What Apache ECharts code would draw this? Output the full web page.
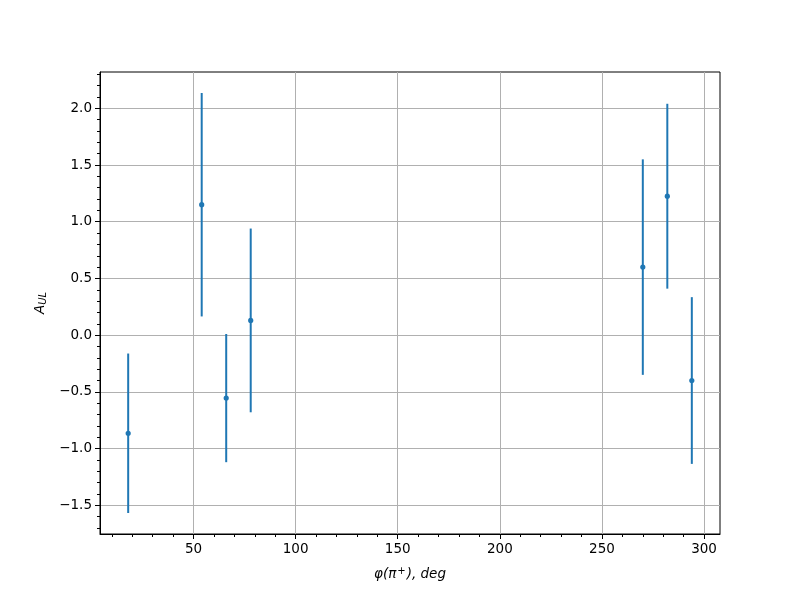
<!DOCTYPE html>
<html>
<head>
<meta charset="utf-8">
<script src="https://cdn.jsdelivr.net/npm/echarts@6/dist/echarts.min.js"></script>
<style>html,body{margin:0;padding:0;background:#fff;}#c{width:800px;height:600px;}</style>
</head>
<body>
<div id="c"></div>
<script>
// Data
const phi = [18, 54, 66, 78, 270, 282, 294];
const aul = [-0.865, 1.15, -0.555, 0.13, 0.60, 1.225, -0.40];
const err = [0.703, 0.985, 0.565, 0.81, 0.95, 0.815, 0.735];

const xMajor = [50, 100, 150, 200, 250, 300];
const xMinor = [10, 20, 30, 40, 60, 70, 80, 90, 110, 120, 130, 140, 160, 170, 180, 190, 210, 220, 230, 240, 260, 270, 280, 290];
const yMajor = [-1.5, -1.0, -0.5, 0.0, 0.5, 1.0, 1.5, 2.0];
const yMinor = [-1.7, -1.6, -1.4, -1.3, -1.2, -1.1, -0.9, -0.8, -0.7, -0.6, -0.4, -0.3, -0.2, -0.1, 0.1, 0.2, 0.3, 0.4, 0.6, 0.7, 0.8, 0.9, 1.1, 1.2, 1.3, 1.4, 1.6, 1.7, 1.8, 1.9, 2.1, 2.2, 2.3];

// matplotlib-like 5% margins
const xLo = Math.min(...phi), xHi = Math.max(...phi);
const xMin = xLo - 0.05 * (xHi - xLo), xMax = xHi + 0.05 * (xHi - xLo);
const lows = aul.map((v, i) => v - err[i]), highs = aul.map((v, i) => v + err[i]);
const yLo = Math.min(...lows), yHi = Math.max(...highs);
const yMin = yLo - 0.05 * (yHi - yLo), yMax = yHi + 0.05 * (yHi - yLo);

const FONT = 'DejaVu Sans';
const C = '#1f77b4';
const fmtY = v => { const s = Math.abs(v).toFixed(1); return (v < -1e-9 ? '\u2212' : '') + s; };

const data = phi.map((x, i) => [x, aul[i], err[i]]);

const chart = echarts.init(document.getElementById('c'), null, {renderer: 'canvas'});
chart.setOption({
  animation: false,
  backgroundColor: '#fff',
  grid: {left: 100, right: 80, top: 72, bottom: 66, show: true, borderColor: '#000', borderWidth: 1, backgroundColor: 'transparent', containLabel: false},
  xAxis: [{
    type: 'value', min: xMin, max: xMax, position: 'bottom',
    axisLine: {show: true, onZero: false, lineStyle: {color: '#000', width: 1}},
    axisTick: {show: true, inside: false, length: 5, lineStyle: {color: '#000', width: 1}, customValues: xMajor},
    axisLabel: {show: true, customValues: xMajor, color: '#000', fontFamily: FONT, fontSize: 13.5, margin: 8, formatter: v => String(v)},
    splitLine: {show: true, lineStyle: {color: '#b0b0b0', width: 1}},
    name: '{i|\u03c6(\u03c0}{sup|+}{i|), deg}',
    nameLocation: 'middle', nameGap: 32,
    nameTextStyle: {color: '#000', fontFamily: FONT, fontSize: 13.5, rich: {
      i: {fontStyle: 'italic', fontFamily: FONT, fontSize: 13.5, color: '#000'},
      sup: {fontFamily: FONT, fontSize: 10, color: '#000', verticalAlign: 'top', padding: [0, 1, 6, 1]}
    }}
  }, {
    type: 'value', min: xMin, max: xMax, position: 'bottom',
    axisLine: {show: false, onZero: false},
    axisTick: {show: true, inside: false, length: 3, lineStyle: {color: '#000', width: 1}, customValues: xMinor},
    axisLabel: {show: false},
    splitLine: {show: false}
  }],
  yAxis: [{
    type: 'value', min: yMin, max: yMax, position: 'left',
    axisLine: {show: true, onZero: false, lineStyle: {color: '#000', width: 1}},
    axisTick: {show: true, inside: false, length: 5, lineStyle: {color: '#000', width: 1}, customValues: yMajor},
    axisLabel: {show: true, customValues: yMajor, color: '#000', fontFamily: FONT, fontSize: 13.5, margin: 8, formatter: fmtY},
    splitLine: {show: true, lineStyle: {color: '#b0b0b0', width: 1}},
    name: '{i|A}{sub|UL}',
    nameLocation: 'middle', nameGap: 52, nameRotate: 90,
    nameTextStyle: {color: '#000', fontFamily: FONT, fontSize: 13.5, rich: {
      i: {fontStyle: 'italic', fontFamily: FONT, fontSize: 13.5, color: '#000'},
      sub: {fontStyle: 'italic', fontFamily: FONT, fontSize: 10, color: '#000', verticalAlign: 'bottom', padding: [6, 0, 0, 0]}
    }}
  }, {
    type: 'value', min: yMin, max: yMax, position: 'left',
    axisLine: {show: false, onZero: false},
    axisTick: {show: true, inside: false, length: 3, lineStyle: {color: '#000', width: 1}, customValues: yMinor},
    axisLabel: {show: false},
    splitLine: {show: false}
  }],
  series: [{
    type: 'custom',
    xAxisIndex: 0, yAxisIndex: 0,
    data: data,
    encode: {x: 0, y: 1},
    renderItem: function (params, api) {
      const x = api.value(0), y = api.value(1), e = api.value(2);
      const top = api.coord([x, y + e]);
      const bot = api.coord([x, y - e]);
      const c = api.coord([x, y]);
      return {type: 'group', children: [
        {type: 'line', shape: {x1: top[0], y1: top[1], x2: bot[0], y2: bot[1]}, style: {stroke: C, lineWidth: 2}},
        {type: 'circle', shape: {cx: c[0], cy: c[1], r: 2.6}, style: {fill: C}}
      ]};
    }
  }]
});
</script>
</body>
</html>
